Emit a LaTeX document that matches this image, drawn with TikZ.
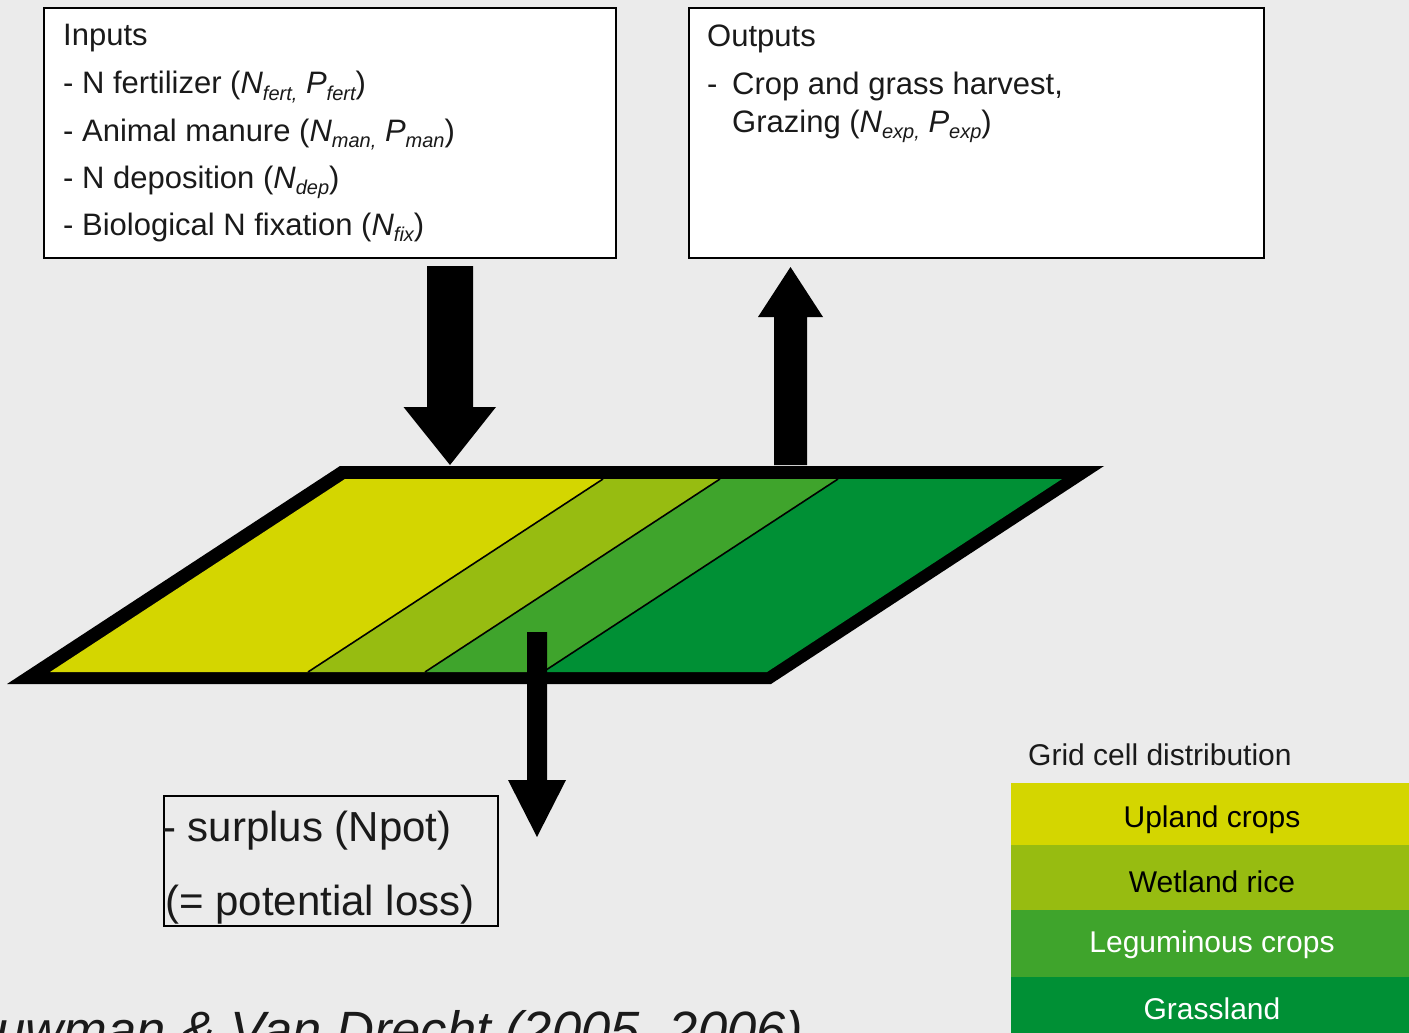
\documentclass[tikz,border=0pt]{standalone}
\usepackage{fontspec}
\setmainfont{Liberation Sans}
\usetikzlibrary{calc}

\definecolor{bg}{HTML}{EBEBEB}
\definecolor{upland}{HTML}{D4D600}
\definecolor{wetland}{HTML}{97BC11}
\definecolor{legum}{HTML}{3FA42C}
\definecolor{grass}{HTML}{009035}
\definecolor{ink}{HTML}{1A1A1A}

% italic variable with lowered italic subscript
\newcommand\sbs[1]{\raisebox{-6pt}{\fontsize{20}{20}\selectfont\itshape #1}}
\newcommand\vr[2]{\textit{#1}\sbs{#2}}

\tikzset{
  panel/.style={draw=black, line width=2pt, fill=white, inner sep=0pt, anchor=north west},
  txt/.style={anchor=base west, inner sep=0pt, text=ink, font=\fontsize{31}{37}\selectfont},
  losstxt/.style={anchor=base west, inner sep=0pt, text=ink, font=\fontsize{42}{48}\selectfont},
  legtxt/.style={anchor=base, inner sep=0pt, font=\fontsize{30}{36}\selectfont},
  legrow/.style={anchor=north west, inner sep=0pt, minimum width=398pt, draw=none},
  blockarrow/.style={fill=black},
  divider/.style={draw=black, line width=1.6pt},
}

\begin{document}
\begin{tikzpicture}[x=1pt,y=-1pt]
  % canvas
  \fill[bg] (0,0) rectangle (1409,1033);
  \useasboundingbox (0,0) rectangle (1409,1033);
  \clip (0,0) rectangle (1409,1033);

  % input and output panels
  \node[panel, minimum width=572pt, minimum height=250pt] (inputs) at (43,7) {};
  \node[panel, minimum width=575pt, minimum height=250pt] (outputs) at (688,7) {};

  \node[txt] (inT) at (63,46) {Inputs};
  \node[txt] (in1) at (63,94) {- N fertilizer (\vr{N}{fert,} \vr{P}{fert})};
  \node[txt] (in2) at (63,141) {- Animal manure (\vr{N}{man,} \vr{P}{man})};
  \node[txt] (in3) at (63,188) {- N deposition (\vr{N}{dep})};
  \node[txt] (in4) at (63,235) {- Biological N fixation (\vr{N}{fix})};

  \node[txt] (outT) at (707,47) {Outputs};
  \node[txt] (out1) at (707,95) {\makebox[25pt][l]{-}Crop and grass harvest,};
  \node[txt] (out2) at (732,132) {Grazing (\vr{N}{exp,} \vr{P}{exp})};

  % grid cell (parallelogram) with land-use strips
  \coordinate (oBL) at (7,684);
  \coordinate (oTL) at (340,466);
  \coordinate (oTR) at (1104,466);
  \coordinate (oBR) at (771,684);
  \fill[black] (oBL) -- (oTL) -- (oTR) -- (oBR) -- cycle;

  \coordinate (b0) at (50,672);   \coordinate (t0) at (345,479);
  \coordinate (b1) at (308,672);  \coordinate (t1) at (603,479);
  \coordinate (b2) at (425,672);  \coordinate (t2) at (720,479);
  \coordinate (b3) at (543,672);  \coordinate (t3) at (838,479);
  \coordinate (b4) at (767,672);  \coordinate (t4) at (1062,479);
  \fill[upland]  (b0) -- (t0) -- (t1) -- (b1) -- cycle;
  \fill[wetland] (b1) -- (t1) -- (t2) -- (b2) -- cycle;
  \fill[legum]   (b2) -- (t2) -- (t3) -- (b3) -- cycle;
  \fill[grass]   (b3) -- (t3) -- (t4) -- (b4) -- cycle;
  \draw[divider] (b1) -- (t1);
  \draw[divider] (b2) -- (t2);
  \draw[divider] (b3) -- (t3);

  % flow arrows
  \coordinate (inTail) at (450,266);
  \coordinate (inTip) at (450,465);
  \fill[blockarrow] (inTail) ++(-23,0) -- ++(46,0) -- ++(0,141) -- ++(23,0)
    -- (inTip) -- ++(-46.5,-58) -- ++(23.5,0) -- cycle;

  \coordinate (outTail) at (790.5,465);
  \coordinate (outTip) at (790.5,267);
  \fill[blockarrow] (outTail) ++(-16.5,0) -- ++(33,0) -- ++(0,-148) -- ++(16,0)
    -- (outTip) -- ++(-32.5,50) -- ++(16,0) -- cycle;

  \coordinate (lossTail) at (537,632);
  \coordinate (lossTip) at (537,837);
  \fill[blockarrow] (lossTail) ++(-10,0) -- ++(20,0) -- ++(0,148) -- ++(19,0)
    -- (lossTip) -- ++(-29,-57) -- ++(19,0) -- cycle;

  % surplus box
  \node[panel, minimum width=334pt, minimum height=130pt, fill=none] (surplus) at (163,795) {};
  \node[losstxt] (loss1) at (162,841) {- surplus (Npot)};
  \node[losstxt] (loss2) at (165,915) {(= potential loss)};

  % legend
  \node[legtxt, anchor=base west, text=ink] (legT) at (1028,765) {Grid cell distribution};
  \node[legrow, fill=upland,  minimum height=62pt] (rowU) at (1011,783) {};
  \node[legrow, fill=wetland, minimum height=65pt] (rowW) at (1011,845) {};
  \node[legrow, fill=legum,   minimum height=67pt] (rowL) at (1011,910) {};
  \node[legrow, fill=grass,   minimum height=57pt] (rowG) at (1011,977) {};
  \node[legtxt, text=black] (labU) at (1212,827) {Upland crops};
  \node[legtxt, text=black] (labW) at (1212,892) {Wetland rice};
  \node[legtxt, text=white] (labL) at (1212,952) {Leguminous crops};
  \node[legtxt, text=white] (labG) at (1212,1019) {Grassland};

  % source
  \node[anchor=base west, inner sep=0pt, text=ink, font=\fontsize{52.5}{60}\selectfont\itshape]
    (cite) at (-67.6,1048) {Bouwman \& Van Drecht (2005, 2006)};
\end{tikzpicture}
\end{document}
